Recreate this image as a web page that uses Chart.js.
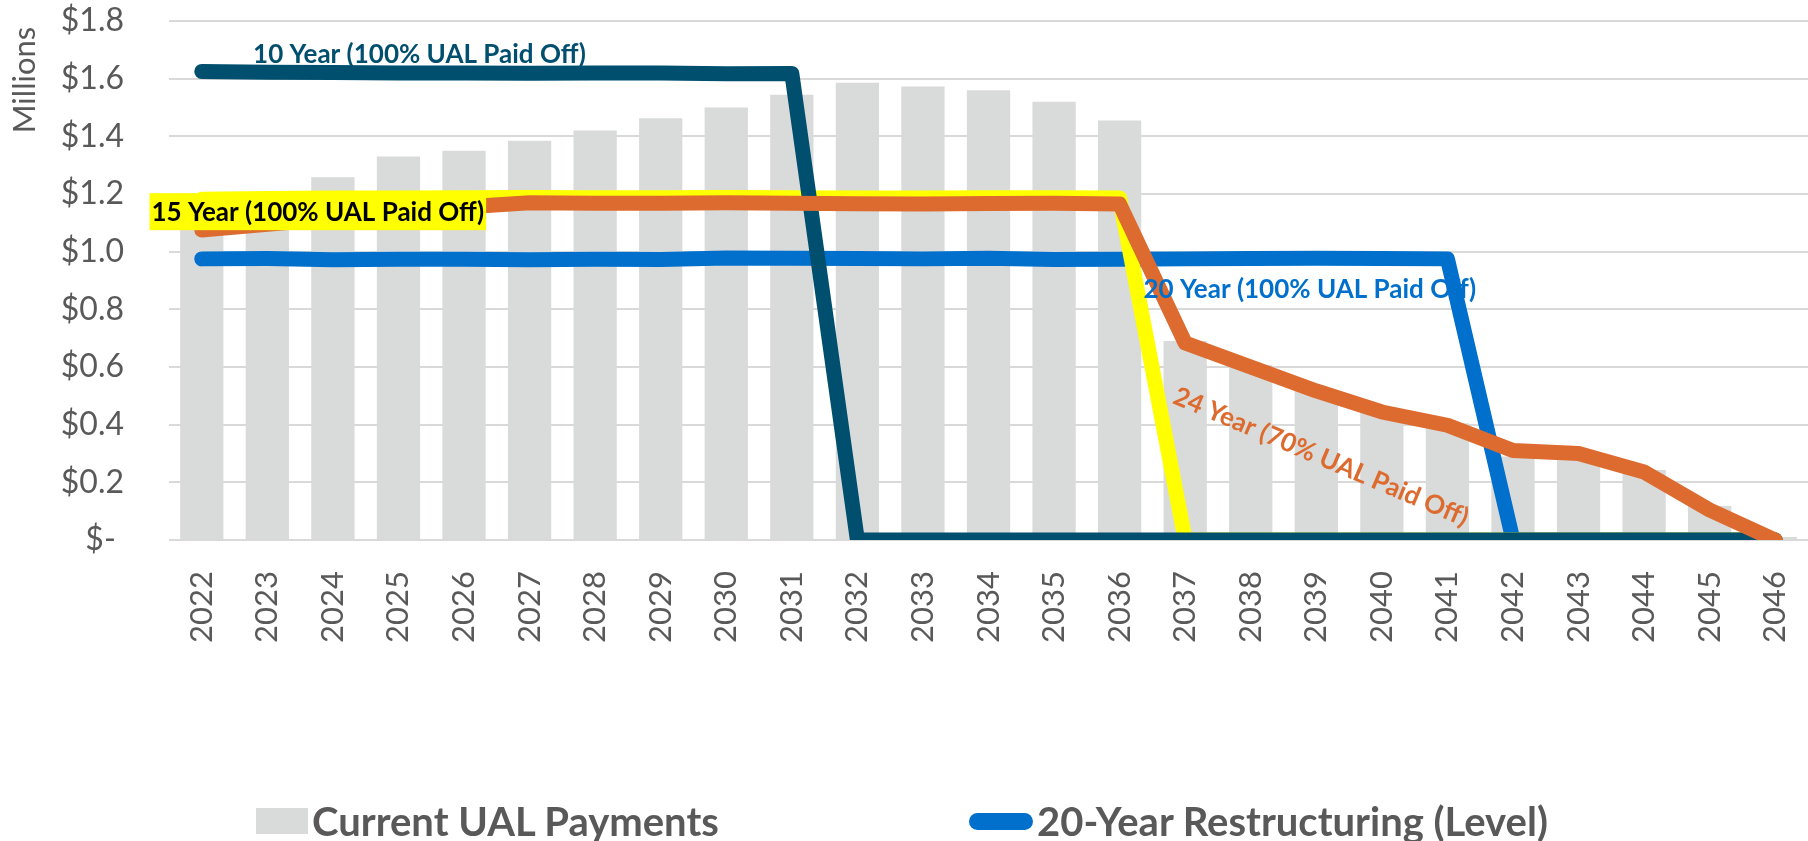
<!DOCTYPE html>
<html lang="en">
<head>
<meta charset="UTF-8">
<title>UAL Restructuring Scenarios</title>
<script src="https://cdn.jsdelivr.net/npm/chart.js@4.4.0/dist/chart.umd.min.js"></script>
<style>
  html, body { margin: 0; padding: 0; background: #fff; }
  #wrap { position: relative; width: 1808px; height: 841px; }
  #legend { position: absolute; left: 0; top: 0; width: 1808px; height: 841px; pointer-events: none;
            font-family: Lato, "Open Sans", sans-serif; font-weight: bold; font-size: 40px; color: #595959; }
  .item { position: absolute; top: 797px; height: 48px; display: flex; align-items: center; white-space: nowrap; }
  .key { display: inline-block; margin-right: 4px; }
</style>
</head>
<body>
<div id="wrap">
  <canvas id="ualChart" width="1808" height="841"></canvas>
  <div id="legend"></div>
</div>

<script>
  // years on the x axis
  const years = ['2022', '2023', '2024', '2025', '2026', '2027', '2028', '2029', '2030', '2031',
                 '2032', '2033', '2034', '2035', '2036', '2037', '2038', '2039', '2040', '2041',
                 '2042', '2043', '2044', '2045', '2046'];

  // $ millions
  const currentUAL = [1.13, 1.19, 1.258, 1.33, 1.35, 1.385, 1.42, 1.463, 1.50, 1.544,
                      1.586, 1.573, 1.56, 1.52, 1.455, 0.69, 0.607, 0.52, 0.445, 0.405,
                      0.29, 0.277, 0.243, 0.118, 0.01];
  const level20 = [0.975, 0.976, 0.972, 0.974, 0.974, 0.972, 0.974, 0.973, 0.978, 0.977,
                   0.976, 0.975, 0.977, 0.973, 0.974, 0.975, 0.976, 0.977, 0.976, 0.975,
                   0, 0, 0, 0, 0];
  const plan15 = [1.182, 1.184, 1.186, 1.186, 1.187, 1.188, 1.187, 1.187, 1.188, 1.187,
                  1.186, 1.186, 1.187, 1.187, 1.186, 0, 0, 0, 0, 0,
                  0, 0, 0, 0, 0];
  const plan10 = [1.625, 1.622, 1.621, 1.620, 1.620, 1.619, 1.620, 1.620, 1.617, 1.618,
                  0, 0, 0, 0, 0, 0, 0, 0, 0, 0,
                  0, 0, 0, 0, 0];
  const plan24 = [1.075, 1.095, 1.115, 1.135, 1.155, 1.17, 1.168, 1.168, 1.17, 1.168,
                  1.166, 1.165, 1.167, 1.168, 1.165, 0.683, 0.60, 0.517, 0.444, 0.398,
                  0.31, 0.30, 0.236, 0.104, 0];

  const yTickLabels = ['$- ', '$0.2', '$0.4', '$0.6', '$0.8', '$1.0', '$1.2', '$1.4', '$1.6', '$1.8'];

  // labels written next to the lines: [category index, value]
  const seriesNotes = [
    { text: '10 Year (100% UAL Paid Off)', at: [3.32, 1.685], color: '#004F6E', angle: 0 },
    { text: '15 Year (100% UAL Paid Off)', at: [1.77, 1.137], color: '#000000', angle: 0, bg: '#FFFF00' },
    { text: '20 Year (100% UAL Paid Off)', at: [16.9, 0.867], color: '#0070CC', angle: 0 },
    { text: '24 Year (70% UAL Paid Off)', at: [17.07, 0.288], color: '#DD6B2F', angle: 23 }
  ];

  const FONT = 'Lato, "Open Sans", sans-serif';
  const GREY_TEXT = '#595959';

  const notesPlugin = {
    id: 'notes',
    afterDatasetsDraw(chart) {
      const ctx = chart.ctx;
      const x = chart.scales.x, y = chart.scales.y;
      seriesNotes.forEach(n => {
        const px = x.getPixelForValue(n.at[0]);
        const py = y.getPixelForValue(n.at[1]);
        ctx.save();
        ctx.translate(px, py);
        ctx.rotate(n.angle * Math.PI / 180);
        ctx.font = 'bold 26px ' + FONT;
        ctx.textAlign = 'center';
        ctx.textBaseline = 'middle';
        if (n.bg) {
          const w = ctx.measureText(n.text).width;
          ctx.fillStyle = n.bg;
          ctx.fillRect(-w / 2 - 2, -19, w + 4, 37);
        }
        ctx.fillStyle = n.color;
        ctx.fillText(n.text, 0, 0);
        ctx.restore();
      });
    }
  };

  // "Millions" display-unit label at the top of the value axis
  const unitPlugin = {
    id: 'unitLabel',
    afterDraw(chart) {
      const ctx = chart.ctx;
      ctx.save();
      ctx.translate(25, 80);
      ctx.rotate(-Math.PI / 2);
      ctx.font = '31px ' + FONT;
      ctx.fillStyle = GREY_TEXT;
      ctx.textAlign = 'center';
      ctx.textBaseline = 'middle';
      ctx.fillText('Millions', 0, 0);
      ctx.restore();
    }
  };

  function lineSet(label, data, color, order) {
    return {
      type: 'line', label: label, data: data, order: order,
      borderColor: color, backgroundColor: color, borderWidth: 15,
      borderCapStyle: 'round', borderJoinStyle: 'round',
      pointRadius: 0, tension: 0, fill: false
    };
  }

  const chart = new Chart(document.getElementById('ualChart'), {
    type: 'bar',
    data: {
      labels: years,
      datasets: [
        { label: 'Current UAL Payments', data: currentUAL, backgroundColor: '#D9DADA',
          barPercentage: 0.66, categoryPercentage: 1, order: 5 },
        lineSet('20-Year Restructuring (Level)', level20, '#0070CC', 4),
        lineSet('15-Year Restructuring', plan15, '#FFFF00', 3),
        lineSet('10-Year Restructuring', plan10, '#004F6E', 2),
        lineSet('24-Year Restructuring', plan24, '#DD6B2F', 1)
      ]
    },
    options: {
      responsive: false,
      devicePixelRatio: 1,
      animation: false,
      layout: { padding: { top: 21, right: 0, left: 0, bottom: 0 } },
      plugins: { legend: { display: false }, tooltip: { enabled: false } },
      scales: {
        x: {
          offset: true,
          grid: { display: false },
          border: { display: false },
          ticks: { minRotation: 90, maxRotation: 90, autoSkip: false, padding: 23,
                   color: GREY_TEXT, font: { family: FONT, size: 31 } },
          afterFit(scale) {
            scale.height = 301;
            scale.paddingLeft = 0;
            scale.paddingRight = 0;
          }
        },
        y: {
          min: 0, max: 1.8,
          grid: { color: '#D9D9D9', lineWidth: 2, drawTicks: false },
          border: { display: false },
          ticks: { stepSize: 0.2, padding: 45, color: GREY_TEXT,
                   font: { family: FONT, size: 32 },
                   callback: (v, i) => yTickLabels[i] },
          afterFit(scale) {
            scale.width = 169;
            scale.paddingTop = 0;
            scale.paddingBottom = 0;
          }
        }
      }
    },
    plugins: [notesPlugin, unitPlugin]
  });

  // legend below the chart: bars and the level 20-year line only
  const legend = document.getElementById('legend');
  const shown = [
    { ds: chart.data.datasets[0], left: 256, key: 'width:52px;height:26px;' },
    { ds: chart.data.datasets[1], left: 969, key: 'width:64px;height:17px;border-radius:9px;' }
  ];
  shown.forEach(s => {
    const item = document.createElement('div');
    item.className = 'item';
    item.style.left = s.left + 'px';
    const key = document.createElement('span');
    key.className = 'key';
    key.style.cssText = s.key + 'background:' + s.ds.backgroundColor + ';';
    const txt = document.createElement('span');
    txt.textContent = s.ds.label;
    item.appendChild(key);
    item.appendChild(txt);
    legend.appendChild(item);
  });
</script>
</body>
</html>
